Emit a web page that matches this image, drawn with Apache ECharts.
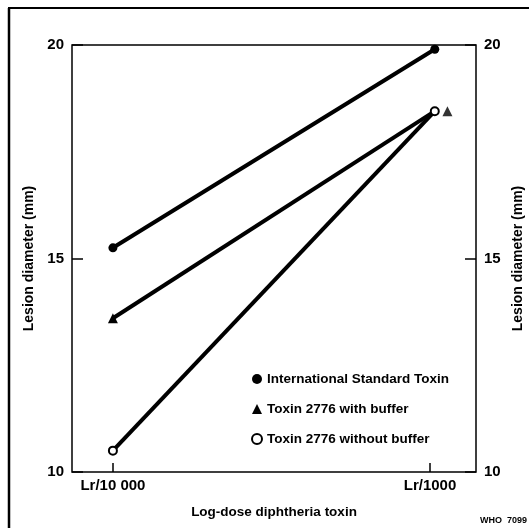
<!DOCTYPE html>
<html>
<head>
<meta charset="utf-8">
<script src="https://cdn.jsdelivr.net/npm/echarts@6/dist/echarts.min.js"></script>
<style>
  html, body { margin: 0; padding: 0; background: #fff; }
  #chart { width: 529px; height: 528px; }
</style>
</head>
<body>
<div id="chart"></div>
<script>
// log-dose position, in decades counted from Lr/10 000
const doseTicks = [0, 1]
const doseLabels = ['Lr/10 000', 'Lr/1000']
const doseX = [0, 1.015]
const withBufferShiftX = 1.055 // triangle drawn beside the shared end point

const intlStd = [15.25, 19.9]
const withBuffer = [13.6, 18.45]
const withoutBuffer = [10.5, 18.45]

const yTicks = [10, 15, 20]

const font = 'Liberation Sans'
const chart = echarts.init(document.getElementById('chart'))

const yAxisBase = {
  type: 'value',
  min: yTicks[0],
  max: yTicks[yTicks.length - 1],
  interval: 5,
  name: 'Lesion diameter (mm)',
  nameLocation: 'middle',
  nameRotate: 90,
  nameTextStyle: { color: '#000', fontFamily: font, fontWeight: 'bold', fontSize: 14 },
  axisLine: { show: false, onZero: false },
  axisTick: { inside: true, length: 11, lineStyle: { color: '#000', width: 1.5 } },
  axisLabel: { color: '#000', fontFamily: font, fontWeight: 'bold', fontSize: 15, margin: 8 },
  splitLine: { show: false },
}

const lineStyle = { color: '#000', width: 4 }

const option = {
  backgroundColor: '#fff',
  animation: false,
  grid: {
    left: 72,
    right: 53,
    top: 45,
    bottom: 56,
    outerBoundsMode: 'none',
    containLabel: false,
    show: true,
    borderColor: '#000',
    borderWidth: 1.5,
  },
  legend: {
    orient: 'vertical',
    left: 246,
    top: 367,
    itemGap: 16,
    itemWidth: 10,
    itemHeight: 10,
    textStyle: { color: '#000', fontFamily: font, fontWeight: 'bold', fontSize: 13.5 },
    data: [
      { name: 'International Standard Toxin', icon: 'circle', itemStyle: { color: '#000', borderWidth: 0 } },
      { name: 'Toxin 2776 with buffer', icon: 'triangle', itemStyle: { color: '#000', borderWidth: 0 } },
      {
        name: 'Toxin 2776 without buffer',
        icon: 'circle',
        itemStyle: { color: '#fff', borderColor: '#000', borderWidth: 2 },
      },
    ],
  },
  xAxis: {
    type: 'value',
    min: -0.129,
    max: 1.145,
    name: 'Log-dose diphtheria toxin',
    nameLocation: 'middle',
    nameGap: 33,
    nameTextStyle: { color: '#000', fontFamily: font, fontWeight: 'bold', fontSize: 13.5 },
    axisLine: { show: false, onZero: false },
    axisTick: { customValues: doseTicks, inside: true, length: 9, lineStyle: { color: '#000', width: 1.5 } },
    axisLabel: {
      customValues: doseTicks,
      formatter: v => doseLabels[doseTicks.indexOf(v)],
      color: '#000',
      fontFamily: font,
      fontWeight: 'bold',
      fontSize: 15,
      margin: 6,
    },
    splitLine: { show: false },
  },
  yAxis: [
    { ...yAxisBase, position: 'left', nameGap: 32 },
    { ...yAxisBase, position: 'right', nameGap: 28 },
  ],
  series: [
    {
      name: 'International Standard Toxin',
      type: 'line',
      symbol: 'circle',
      symbolSize: 9,
      itemStyle: { color: '#000' },
      lineStyle,
      data: doseX.map((x, i) => [x, intlStd[i]]),
    },
    {
      name: 'Toxin 2776 with buffer',
      type: 'line',
      symbol: 'triangle',
      symbolSize: 10,
      itemStyle: { color: '#000' },
      lineStyle,
      data: doseX.map((x, i) => (i === 0 ? [x, withBuffer[i]] : { value: [x, withBuffer[i]], symbol: 'none' })),
    },
    {
      name: 'Toxin 2776 with buffer',
      type: 'scatter',
      symbol: 'triangle',
      symbolSize: 10,
      itemStyle: { color: '#000' },
      data: [[withBufferShiftX, withBuffer[1]]],
    },
    {
      name: 'Toxin 2776 without buffer',
      type: 'line',
      symbol: 'emptyCircle',
      symbolSize: 8,
      itemStyle: { color: '#000', borderWidth: 2 },
      lineStyle,
      data: doseX.map((x, i) => [x, withoutBuffer[i]]),
    },
  ],
  graphic: [
    { type: 'line', shape: { x1: 9, y1: 8, x2: 9, y2: 528 }, style: { stroke: '#000', lineWidth: 2.5 } },
    { type: 'line', shape: { x1: 8, y1: 8, x2: 529, y2: 8 }, style: { stroke: '#000', lineWidth: 2 } },
    {
      type: 'text',
      right: 2,
      top: 516,
      style: { text: 'WHO  7099', fill: '#000', font: 'bold 9px "Liberation Sans"' },
    },
  ],
}

chart.setOption(option)
</script>
</body>
</html>
